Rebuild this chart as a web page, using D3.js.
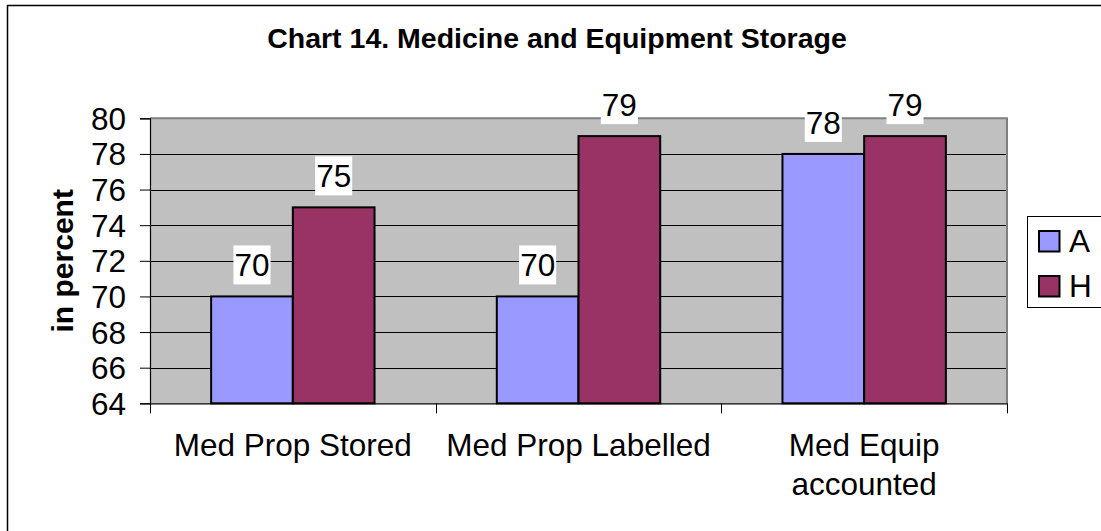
<!DOCTYPE html>
<html>
<head>
<meta charset="utf-8">
<script src="https://cdn.jsdelivr.net/npm/d3@7"></script>
<style>
  html, body { margin: 0; padding: 0; background: #fff; }
  svg { display: block; font-family: "Liberation Sans", Arial, sans-serif; }
</style>
</head>
<body>
<svg id="chart" width="1101" height="531"></svg>
<script>
const titleText = "Chart 14. Medicine and Equipment Storage";
const yAxisLabel = "in percent";
const categories = ["Med Prop Stored", "Med Prop Labelled", "Med Equip accounted"];
const seriesNames = ["A", "H"];
const seriesA = [70, 70, 78];
const seriesH = [75, 79, 79];
const yTicks = [64, 66, 68, 70, 72, 74, 76, 78, 80];
const colors = ["#9999FF", "#993366"];

const seriesValues = [seriesA, seriesH];
const svg = d3.select("#chart");

const plot = { left: 150, right: 1007, top: 118.3, bottom: 403.3 };

// outer border (chart area extends beyond the picture on right/bottom)
svg.append("rect")
  .attr("x", 7.5).attr("y", 5.5)
  .attr("width", 1120).attr("height", 560)
  .attr("fill", "#fff").attr("stroke", "#000").attr("stroke-width", 1.5);

const x0 = d3.scaleBand().domain(categories).range([plot.left, plot.right]).padding(0);
const groupW = x0.bandwidth() * 0.572;
const x1 = d3.scaleBand().domain(seriesNames)
  .range([(x0.bandwidth() - groupW) / 2, (x0.bandwidth() + groupW) / 2]).padding(0);
const y = d3.scaleLinear().domain([64, 80]).range([plot.bottom, plot.top]);

// plot background
svg.append("rect")
  .attr("x", plot.left).attr("y", plot.top)
  .attr("width", plot.right - plot.left).attr("height", plot.bottom - plot.top)
  .attr("fill", "#C0C0C0");

// gridlines
svg.append("g").selectAll("line")
  .data(yTicks.filter(t => t !== 64 && t !== 80))
  .join("line")
  .attr("x1", plot.left).attr("x2", plot.right)
  .attr("y1", d => Math.round(y(d)) + 0.5).attr("y2", d => Math.round(y(d)) + 0.5)
  .attr("stroke", "#000").attr("stroke-width", 1);

// top & right border (gray)
svg.append("path")
  .attr("d", `M${plot.left},${plot.top} H${plot.right} V${plot.bottom}`)
  .attr("fill", "none").attr("stroke", "#808080").attr("stroke-width", 2);

// y axis
const yAxis = d3.axisLeft(y).tickValues(yTicks).tickSize(10).tickPadding(14).tickFormat(d3.format("d"));
const gy = svg.append("g").attr("transform", `translate(${plot.left},0)`).call(yAxis);
gy.select(".domain").attr("stroke", "#000").attr("stroke-width", 1.2);
gy.selectAll(".tick line").attr("stroke", "#000");
gy.selectAll(".tick text")
  .attr("font-size", 31.5).attr("fill", "#000")
  .attr("font-family", "'Liberation Sans', Arial, sans-serif")
  .attr("dy", null).attr("y", 11);

// bars
const groups = svg.append("g").selectAll("g")
  .data(categories)
  .join("g")
  .attr("transform", d => `translate(${x0(d)},0)`);

groups.selectAll("rect")
  .data((d, i) => seriesNames.map((s, j) => ({ s, v: seriesValues[j][i], j })))
  .join("rect")
  .attr("x", d => x1(d.s))
  .attr("y", d => y(d.v))
  .attr("width", x1.bandwidth())
  .attr("height", d => y(64) - y(d.v))
  .attr("fill", d => colors[d.j])
  .attr("stroke", "#000").attr("stroke-width", 2);

// x axis
const xAxis = d3.axisBottom(x0).tickSize(0).tickFormat("");
const gx = svg.append("g").attr("transform", `translate(0,${plot.bottom})`).call(xAxis);
gx.select(".domain").attr("stroke", "#000").attr("stroke-width", 1.2);
// category boundary ticks
svg.append("g").selectAll("line")
  .data(categories.map(c => x0(c)).concat([plot.right]))
  .join("line")
  .attr("x1", d => Math.round(d) + 0.5).attr("x2", d => Math.round(d) + 0.5)
  .attr("y1", plot.bottom).attr("y2", plot.bottom + 10)
  .attr("stroke", "#000").attr("stroke-width", 1);

// category labels with wrapping
const catG = svg.append("g");
categories.forEach(c => {
  const cx = x0(c) + x0.bandwidth() / 2;
  const t = catG.append("text")
    .attr("x", cx).attr("y", 456)
    .attr("text-anchor", "middle")
    .attr("font-size", 31.5).attr("fill", "#000");
  const words = c.split(" ");
  let line = [];
  let lineNo = 0;
  let tspan = t.append("tspan").attr("x", cx).attr("y", 456);
  words.forEach(w => {
    line.push(w);
    tspan.text(line.join(" "));
    if (tspan.node().getComputedTextLength() > x0.bandwidth() && line.length > 1) {
      line.pop();
      tspan.text(line.join(" "));
      line = [w];
      lineNo++;
      tspan = t.append("tspan").attr("x", cx).attr("y", 456 + lineNo * 39).text(w);
    }
  });
});

// data labels
const labelData = [];
categories.forEach((c, i) => {
  seriesNames.forEach((s, j) => {
    labelData.push({ cx: x0(c) + x1(s) + x1.bandwidth() / 2, v: seriesValues[j][i] });
  });
});
const lg = svg.append("g");
labelData.forEach(d => {
  const base = y(d.v) - 20;
  const g = lg.append("g");
  const bg = g.append("rect").attr("fill", "#fff");
  const t = g.append("text")
    .attr("x", d.cx).attr("y", base)
    .attr("text-anchor", "middle")
    .attr("font-size", 31.5).attr("fill", "#000")
    .text(d.v);
  const w = t.node().getComputedTextLength() + 2;
  bg.attr("x", d.cx - w / 2).attr("y", base - 31).attr("width", w).attr("height", 39);
});

// title
svg.append("text")
  .attr("x", 557).attr("y", 48)
  .attr("text-anchor", "middle")
  .attr("font-size", 28.5).attr("font-weight", "bold").attr("fill", "#000")
  .text(titleText);

// y axis label
svg.append("text")
  .attr("transform", `translate(73,${(plot.top + plot.bottom) / 2}) rotate(-90)`)
  .attr("text-anchor", "middle")
  .attr("font-size", 30).attr("font-weight", "bold").attr("fill", "#000")
  .text(yAxisLabel);

// legend
const leg = svg.append("g");
leg.append("rect")
  .attr("x", 1027.5).attr("y", 216.5).attr("width", 90).attr("height", 91)
  .attr("fill", "#fff").attr("stroke", "#000").attr("stroke-width", 1);
seriesNames.forEach((s, j) => {
  const yy = 231 + j * 45;
  leg.append("rect")
    .attr("x", 1039).attr("y", yy).attr("width", 20.5).attr("height", 20.5)
    .attr("fill", colors[j]).attr("stroke", "#000").attr("stroke-width", 2);
  leg.append("text")
    .attr("x", 1069).attr("y", yy + 21)
    .attr("font-size", 31.5).attr("fill", "#000")
    .text(s);
});
</script>
</body>
</html>
